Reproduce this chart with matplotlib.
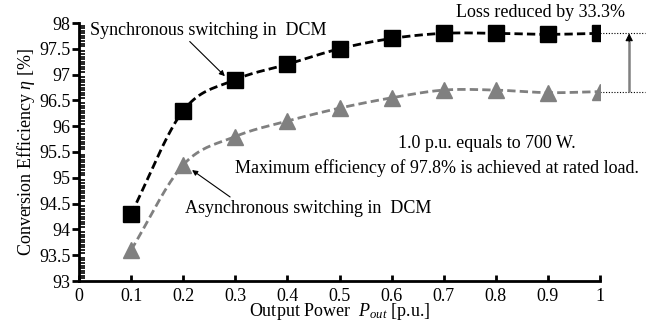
import numpy as np
import matplotlib
matplotlib.use("Agg")
import matplotlib.pyplot as plt
from matplotlib.ticker import MultipleLocator, FormatStrFormatter

plt.rcParams['font.family'] = ['Liberation Serif', 'DejaVu Serif']
plt.rcParams['mathtext.fontset'] = 'custom'
plt.rcParams['mathtext.it'] = 'Liberation Serif:italic'
plt.rcParams['mathtext.rm'] = 'Liberation Serif'

p_out = [0.1, 0.2, 0.3, 0.4, 0.5, 0.6, 0.7, 0.8, 0.9, 1.0]
eff_sync = [94.3, 96.3, 96.9, 97.2, 97.5, 97.7, 97.8, 97.8, 97.78, 97.8]
eff_async = [93.6, 95.25, 95.8, 96.1, 96.35, 96.55, 96.7, 96.7, 96.65, 96.67]
x_ticks = [0, 0.1, 0.2, 0.3, 0.4, 0.5, 0.6, 0.7, 0.8, 0.9, 1.0]
y_ticks = [93, 93.5, 94, 94.5, 95, 95.5, 96, 96.5, 97, 97.5, 98]


def smooth(x, y, n=20):
    x = np.asarray(x, float); y = np.asarray(y, float)
    px = np.concatenate([[2 * x[0] - x[1]], x, [2 * x[-1] - x[-2]]])
    py = np.concatenate([[2 * y[0] - y[1]], y, [2 * y[-1] - y[-2]]])
    xs, ys = [], []
    t = np.linspace(0, 1, n, endpoint=False)
    for i in range(1, len(px) - 2):
        def cr(a0, a1, a2, a3):
            return 0.5 * ((2 * a1) + (-a0 + a2) * t + (2*a0 - 5*a1 + 4*a2 - a3) * t**2
                          + (-a0 + 3*a1 - 3*a2 + a3) * t**3)
        xs.append(cr(*px[i-1:i+3])); ys.append(cr(*py[i-1:i+3]))
    xs.append([x[-1]]); ys.append([y[-1]])
    return np.concatenate(xs), np.concatenate(ys)


FS = 13
fig = plt.figure(figsize=(6.56, 3.27), dpi=100)
ax = fig.add_axes([79/656, 1 - 281/327, (600-79)/656, (281-23)/327])

gray = '#808080'
sx, sy = smooth(p_out, eff_sync)
ax.plot(sx, sy, color='black', lw=2, ls=(0, (3, 1.5)), zorder=2)
ax.plot(p_out, eff_sync, ls='none', marker='s', ms=11.5, color='black', zorder=3)
gx, gy = smooth(p_out, eff_async)
ax.plot(gx, gy, color=gray, lw=2, ls=(0, (3, 1.5)), zorder=2)
ax.plot(p_out, eff_async, ls='none', marker='^', ms=12, color=gray, zorder=3)

ax.set_xlim(0, 1)
ax.set_ylim(93, 98)
ax.set_xticks(x_ticks)
ax.set_yticks(y_ticks)
ax.yaxis.set_minor_locator(MultipleLocator(0.05))
ax.xaxis.set_major_formatter(FormatStrFormatter('%g'))
ax.yaxis.set_major_formatter(FormatStrFormatter('%g'))
for s in ['top', 'right']:
    ax.spines[s].set_visible(False)
for s in ['left', 'bottom']:
    ax.spines[s].set_linewidth(2)
ax.tick_params(axis='y', which='major', direction='out', length=5, width=2, labelsize=FS, pad=1)
ax.tick_params(axis='y', which='minor', direction='in', length=4, width=1.2)
ax.tick_params(axis='x', which='major', direction='in', length=4, width=2, labelsize=FS, pad=5)

ax.set_xlabel('Output Power  $P_{out}$ [p.u.]', fontsize=FS, labelpad=-3)
ax.set_ylabel(r'Conversion Efficiency $\eta$ [%]', fontsize=FS, labelpad=2)

ax.annotate('Synchronous switching in  DCM', xy=(0.28, 96.97), xytext=(0.021, 97.86),
            fontsize=FS, ha='left', va='center',
            arrowprops=dict(arrowstyle='-|>', color='black', lw=0.8, mutation_scale=8, shrinkA=0,
                            shrinkB=0, relpos=(0.41, 0.0)))
ax.annotate('Asynchronous switching in  DCM', xy=(0.217, 95.15), xytext=(0.203, 94.41),
            fontsize=FS, ha='left', va='center',
            arrowprops=dict(arrowstyle='-|>', color='black', lw=0.8, mutation_scale=8, shrinkA=0,
                            shrinkB=0, relpos=(0.2, 1.0)))
ax.text(0.783, 95.67, '1.0 p.u. equals to 700 W.', fontsize=FS, ha='center', va='center')
ax.text(0.687, 95.19, 'Maximum efficiency of 97.8% is achieved at rated load.', fontsize=FS,
        ha='center', va='center')
ax.text(0.885, 98.21, 'Loss reduced by 33.3%', fontsize=FS, ha='center', va='center')

# dotted reference lines and arrow
ax.plot([1.0, 1.086], [eff_sync[-1]] * 2, color='black', lw=0.8, ls=(0, (1, 1.5)), clip_on=False)
ax.plot([1.0, 1.086], [eff_async[-1]] * 2, color='black', lw=0.8, ls=(0, (1, 1.5)), clip_on=False)
ax.plot([1.056, 1.056], [eff_async[-1], eff_sync[-1] - 0.15], color=gray, lw=1.8,
        clip_on=False, solid_capstyle='butt')
ax.annotate('', xy=(1.056, eff_sync[-1]), xytext=(1.056, eff_sync[-1] - 0.16),
            arrowprops=dict(arrowstyle='-|>', color='black', lw=0.8, mutation_scale=11,
                            shrinkA=0, shrinkB=0),
            annotation_clip=False)

fig.savefig('out.png', dpi=100)
